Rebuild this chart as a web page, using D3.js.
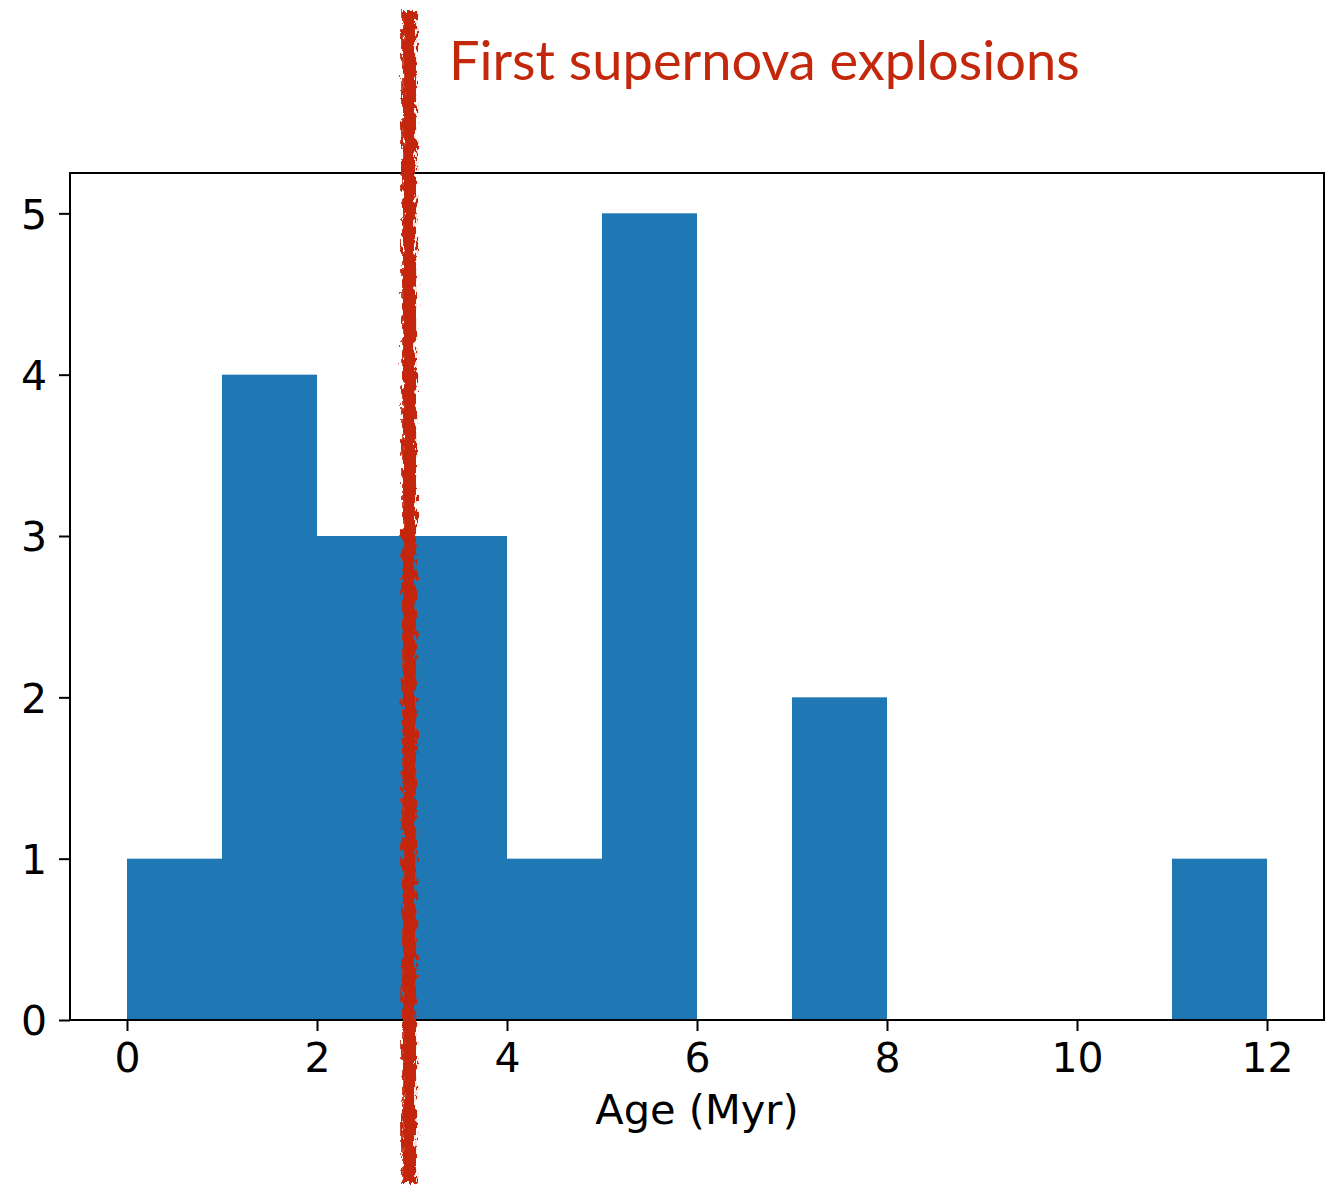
<!DOCTYPE html>
<html>
<head>
<meta charset="utf-8">
<script src="https://cdn.jsdelivr.net/npm/d3@7"></script>
<style>
  html, body { margin: 0; padding: 0; background: #fff; }
  svg { display: block; }
</style>
</head>
<body>
<script>
// Histogram of cluster ages (Myr), unit-width bins from 0 to 12
const binEdges = [0, 1, 2, 3, 4, 5, 6, 7, 8, 9, 10, 11, 12];
const counts   = [1, 4, 3, 3, 1, 5, 0, 2, 0, 0, 0, 1];
const xTicks = [0, 2, 4, 6, 8, 10, 12];
const yTicks = [0, 1, 2, 3, 4, 5];
const markerAge = 2.97;               // onset of the first supernovae
const markerLabel = "First supernova explosions";
const xLabel = "Age (Myr)";

const W = 1330, H = 1189;
const plot = { left: 70, right: 1324, top: 173, bottom: 1020 };

const svg = d3.select("body").append("svg")
  .attr("width", W).attr("height", H);

const x = d3.scaleLinear().domain([-0.6, 12.6]).range([plot.left, plot.right]);
const y = d3.scaleLinear().domain([0, 5.25]).range([plot.bottom, plot.top]);

// Rough, hand-drawn look for the marker stroke
const defs = svg.append("defs");
const f = defs.append("filter").attr("id", "rough")
  .attr("filterUnits", "userSpaceOnUse")
  .attr("x", 0).attr("y", 0).attr("width", W).attr("height", H);
f.append("feTurbulence").attr("type", "fractalNoise")
  .attr("baseFrequency", "0.3 0.1").attr("numOctaves", 3).attr("seed", 7).attr("result", "noise");
f.append("feDisplacementMap").attr("in", "SourceGraphic").attr("in2", "noise")
  .attr("scale", 11).attr("xChannelSelector", "R").attr("yChannelSelector", "G");

const bins = counts.map((c, i) => ({ x0: binEdges[i], x1: binEdges[i + 1], n: c }));

svg.append("g").selectAll("rect").data(bins.filter(d => d.n > 0)).join("rect")
  .attr("x", d => x(d.x0))
  .attr("width", d => x(d.x1) - x(d.x0))
  .attr("y", d => y(d.n))
  .attr("height", d => y(0) - y(d.n))
  .attr("fill", "#1f77b4");

// Frame
svg.append("rect")
  .attr("x", plot.left).attr("y", plot.top)
  .attr("width", plot.right - plot.left).attr("height", plot.bottom - plot.top)
  .attr("fill", "none").attr("stroke", "#000").attr("stroke-width", 2);

const font = "'DejaVu Sans', sans-serif";

const gx = svg.append("g").attr("transform", `translate(0,${plot.bottom})`)
  .call(d3.axisBottom(x).tickValues(xTicks).tickSize(11).tickPadding(12).tickFormat(d3.format("d")));
const gy = svg.append("g").attr("transform", `translate(${plot.left},0)`)
  .call(d3.axisLeft(y).tickValues(yTicks).tickSize(11).tickPadding(12).tickFormat(d3.format("d")));

[gx, gy].forEach(g => {
  g.select(".domain").remove();
  g.selectAll(".tick line").attr("stroke", "#000").attr("stroke-width", 2);
  g.selectAll(".tick text").attr("fill", "#000")
    .style("font-family", font).style("font-size", "41px");
});
gy.selectAll(".tick text").attr("dy", "0.36em");

svg.append("text")
  .attr("x", (plot.left + plot.right) / 2).attr("y", 1124)
  .attr("text-anchor", "middle")
  .style("font-family", font).style("font-size", "41.5px")
  .attr("fill", "#000")
  .text(xLabel);

// Marker line and its label
svg.append("rect")
  .attr("x", x(markerAge) - 7).attr("width", 14)
  .attr("y", 11).attr("height", 1173)
  .attr("fill", "#c4280c")
  .attr("filter", "url(#rough)");

const lab = svg.append("text")
  .attr("x", 449).attr("y", 80)
  .style("font-family", "Lato, 'Open Sans', sans-serif").style("font-size", "56px")
  .attr("fill", "#c4280c")
  .text(markerLabel);
const targetW = 631;
const w = lab.node().getComputedTextLength();
lab.style("font-size", (56 * targetW / w).toFixed(1) + "px");
</script>
</body>
</html>
